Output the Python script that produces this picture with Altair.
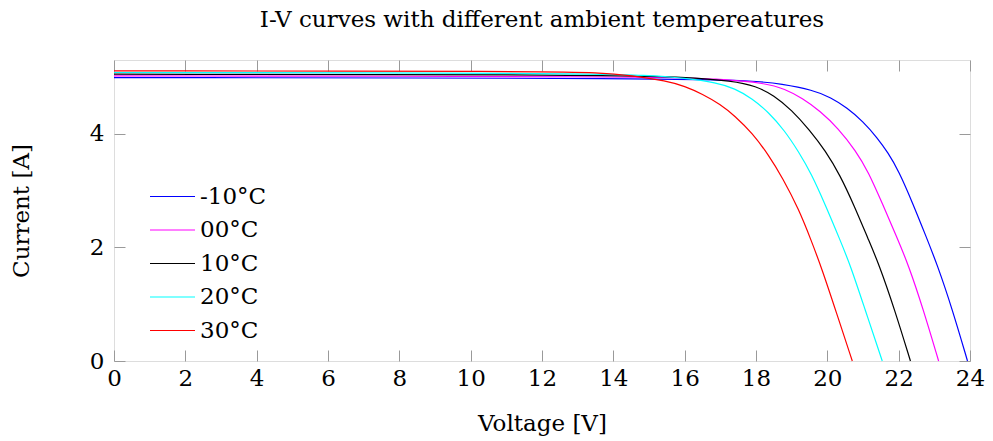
import altair as alt
import pandas as pd

temps = ["-10°C", "00°C", "10°C", "20°C", "30°C"]
colors = ["#0000ff", "#ff00ff", "#000000", "#00ffff", "#ff0000"]

v_m10 = [0, 16, 18, 18.7, 19.6, 20.1, 20.55, 21.0, 21.4, 21.7, 22.0, 22.4, 22.75, 23.08, 23.5, 23.93]
i_m10 = [4.99, 4.98, 4.93, 4.88, 4.77, 4.64, 4.46, 4.22, 3.93, 3.67, 3.35, 2.77, 2.22, 1.70, 0.92, 0]

v_00 = [0, 15, 17, 18.3, 18.8, 19.3, 19.8, 20.3, 20.8, 21.15, 21.55, 21.95, 22.28, 22.68, 23.12]
i_00 = [5.02, 5.01, 4.97, 4.89, 4.79, 4.63, 4.40, 4.10, 3.70, 3.33, 2.76, 2.18, 1.68, 0.93, 0]

v_10 = [0, 14, 16, 17.35, 18.0, 18.5, 19.0, 19.5, 19.95, 20.35, 20.75, 21.15, 21.45, 21.88, 22.33]
i_10 = [5.05, 5.04, 5.0, 4.93, 4.84, 4.68, 4.42, 4.07, 3.70, 3.28, 2.74, 2.14, 1.70, 0.92, 0]

v_20 = [0, 13, 15, 16, 16.9, 17.4, 17.9, 18.35, 18.8, 19.2, 19.55, 19.95, 20.35, 20.65, 21.05, 21.54]
i_20 = [5.08, 5.07, 5.03, 4.98, 4.90, 4.80, 4.62, 4.38, 4.06, 3.68, 3.30, 2.74, 2.14, 1.68, 0.92, 0]

v_30 = [0, 12, 13.6, 14.5, 15.5, 16.0, 16.5, 17.0, 17.4, 17.9, 18.35, 18.75, 19.2, 19.55, 19.85, 20.25, 20.70]
i_30 = [5.11, 5.10, 5.08, 5.03, 4.93, 4.84, 4.70, 4.52, 4.32, 4.01, 3.63, 3.22, 2.67, 2.12, 1.62, 0.86, 0]

x_ticks = [0, 2, 4, 6, 8, 10, 12, 14, 16, 18, 20, 22, 24]
y_ticks = [0, 2, 4]

series = [(temps[0], v_m10, i_m10), (temps[1], v_00, i_00), (temps[2], v_10, i_10),
          (temps[3], v_20, i_20), (temps[4], v_30, i_30)]
rows = []
for name, vs, cs in series:
    for k, (v, c) in enumerate(zip(vs, cs)):
        rows.append({"T": name, "V": v, "I": c, "k": k})
df = pd.DataFrame(rows)

FONT = "DejaVu Serif"
FS = 23
W, H = 856, 301
TICK = 11
TICKCOL = "#9a9a9a"

xs = alt.Scale(domain=[0, 24], nice=False, zero=False)
ys = alt.Scale(domain=[0, 5.3], nice=False, zero=False)

base = alt.Chart(df)

lines = base.mark_line(strokeWidth=1.2, interpolate="basis").encode(
    x=alt.X("V:Q", scale=xs, axis=alt.Axis(
        orient="bottom", values=x_ticks, format="d", ticks=False, domain=False, grid=False,
        labelFlush=False, labelFont=FONT, labelFontSize=FS, labelColor="black", labelPadding=6,
        title="Voltage [V]", titleFont=FONT, titleFontSize=FS, titleFontWeight="normal",
        titleColor="black", titlePadding=22)),
    y=alt.Y("I:Q", scale=ys, axis=alt.Axis(
        orient="left", values=y_ticks, format="d", ticks=False, domain=False, grid=False,
        labelFlush=False, labelFont=FONT, labelFontSize=FS, labelColor="black", labelPadding=10,
        title="Current [A]", titleFont=FONT, titleFontSize=FS, titleFontWeight="normal",
        titleColor="black", titlePadding=56)),
    stroke=alt.Stroke("T:N", scale=alt.Scale(domain=temps, range=colors), legend=alt.Legend(
        orient="none", legendX=47, legendY=125, title=None, symbolType="M-3,0H3",
        symbolSize=225, symbolStrokeWidth=1.2, symbolFillColor="transparent",
        labelFont=FONT, labelFontSize=FS,
        labelColor="black", labelOffset=16, rowPadding=9.5, padding=0)),
    order="k:Q",
)


def tick_axis(orient):
    return alt.Axis(orient=orient, values=(x_ticks if orient in ("bottom", "top") else y_ticks),
                    labels=False, domain=False, grid=False, title=None,
                    ticks=True, tickSize=TICK, tickColor=TICKCOL, tickWidth=1, offset=-TICK)


ticks_bl = base.mark_line(strokeOpacity=0).encode(
    x=alt.X("V:Q", scale=xs, axis=tick_axis("bottom")),
    y=alt.Y("I:Q", scale=ys, axis=tick_axis("left")),
    detail="T:N",
)
ticks_tr = base.mark_line(strokeOpacity=0).encode(
    x=alt.X("V:Q", scale=xs, axis=tick_axis("top")),
    y=alt.Y("I:Q", scale=ys, axis=tick_axis("right")),
    detail="T:N",
)

chart = alt.layer(ticks_bl, ticks_tr, lines).resolve_axis(
    x="independent", y="independent"
).properties(
    width=W, height=H,
    title=alt.TitleParams("I-V curves with different ambient tempereatures", font=FONT,
                          fontSize=FS, fontWeight="normal", color="black", anchor="middle",
                          offset=28),
    autosize=alt.AutoSizeParams(type="none"),
    padding={"left": 114, "top": 60, "right": 23, "bottom": 80},
).configure_view(stroke="black", strokeWidth=1.3).configure(background="white")

chart.save("out.html", embed_options={"renderer": "svg", "actions": False})
